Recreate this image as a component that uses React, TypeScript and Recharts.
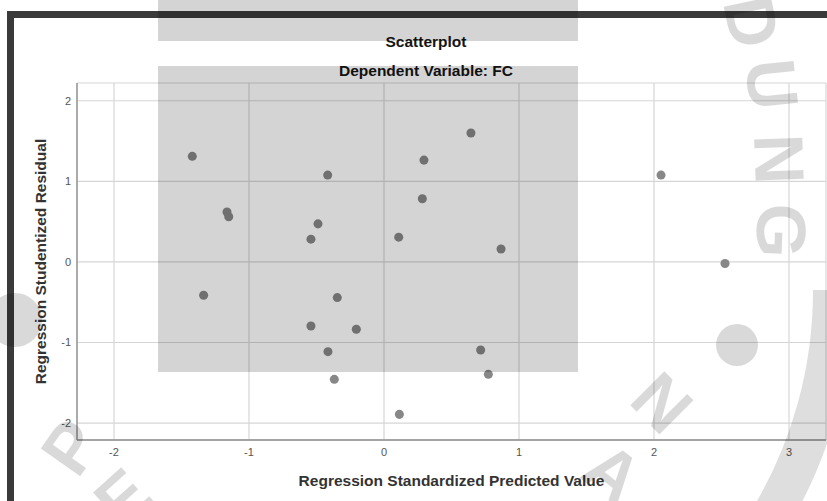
import React from 'react';
import { ScatterChart, Scatter, XAxis, YAxis, ZAxis, CartesianGrid } from 'recharts';

// Regression standardized predicted value (x) / studentized residual (y)
const predicted = [
  -1.42, -1.163, -1.15, -0.417, -0.489, -0.541, 0.109, 0.644, 0.296, 0.284, 0.867,
  2.052, 2.526, -1.336, -0.346, -0.541, -0.205, -0.415, -0.368, 0.114, 0.716, 0.773,
];
const residual = [
  1.31, 0.62, 0.56, 1.077, 0.472, 0.282, 0.307, 1.6, 1.263, 0.783, 0.16,
  1.077, -0.02, -0.414, -0.443, -0.795, -0.836, -1.114, -1.457, -1.892, -1.093, -1.395,
];
const xTicks = [-2, -1, 0, 1, 2, 3];
const yTicks = [-2, -1, 0, 1, 2];

const points = predicted.map((x, i) => ({ x, y: residual[i] }));

const W = 827;
const H = 501;
const shade = { fill: '#000', fillOpacity: 0.17 };
const mark = { fill: '#000', fillOpacity: 0.15 };

export default function App() {
  return (
    <div
      style={{
        position: 'absolute',
        top: 0,
        left: 0,
        width: W,
        height: H,
        background: '#fff',
        overflow: 'hidden',
        fontFamily: '"Liberation Sans", Arial, sans-serif',
      }}
    >
      <ScatterChart width={W} height={H} margin={{ top: 83, right: 1, bottom: 0, left: 0 }}>
        <CartesianGrid stroke="#d6d6d6" strokeWidth={1.2} />
        <XAxis
          type="number"
          dataKey="x"
          domain={[-2.274, 3.274]}
          ticks={xTicks}
          allowDataOverflow
          height={61}
          tickLine={false}
          tickSize={0}
          tickMargin={8}
          axisLine={{ stroke: '#8c8c8c', strokeWidth: 1.3 }}
          tick={{ fontSize: 11, fill: '#555' }}
          label={{
            value: 'Regression Standardized Predicted Value',
            position: 'insideBottom',
            offset: 15,
            fill: '#333',
            fontSize: 15.5,
            fontWeight: 'bold',
          }}
        />
        <YAxis
          type="number"
          dataKey="y"
          domain={[-2.21, 2.22]}
          ticks={yTicks}
          allowDataOverflow
          width={77}
          tickLine={false}
          tickSize={0}
          tickMargin={6}
          axisLine={{ stroke: '#8c8c8c', strokeWidth: 1.3 }}
          tick={{ fontSize: 11, fill: '#555' }}
          label={{
            value: 'Regression Studentized Residual',
            position: 'center',
            angle: -90,
            dx: 2,
            fill: '#333',
            fontSize: 15.5,
            fontWeight: 'bold',
          }}
        />
        <ZAxis range={[52, 52]} />
        <Scatter data={points} fill="#878787" isAnimationActive={false} />
      </ScatterChart>

      <svg
        width={W}
        height={H}
        style={{ position: 'absolute', top: 0, left: 0, pointerEvents: 'none' }}
      >
        <text x={426} y={46.5} textAnchor="middle" fontSize={15.5} fontWeight="bold" fill="#151515">
          Scatterplot
        </text>
        <text x={426} y={76} textAnchor="middle" fontSize={15.5} fontWeight="bold" fill="#151515">
          Dependent Variable: FC
        </text>

        {/* frame of the screenshot */}
        <rect x={7} y={11} width={820} height={7} fill="#3a3a3a" />
        <rect x={7} y={11} width={7} height={490} fill="#3a3a3a" />

        {/* watermark */}
        <path
          d="M 833 290 A 443 443 0 0 1 769 520"
          fill="none"
          stroke="#000"
          strokeOpacity={0.13}
          strokeWidth={40}
        />
        <circle cx={15} cy={320} r={27} {...mark} />
        <circle cx={737} cy={345} r={21} {...mark} />
        <g fontSize={70} fontWeight="bold" {...mark}>
          <text transform="translate(728,27) rotate(78)" textAnchor="middle">D</text>
          <text transform="translate(748,87) rotate(84)" textAnchor="middle">U</text>
          <text transform="translate(755,160) rotate(88)" textAnchor="middle">N</text>
          <text transform="translate(757,230) rotate(92)" textAnchor="middle">G</text>
          <text transform="translate(91,461) rotate(-55)" textAnchor="middle">P</text>
          <text transform="translate(139,516) rotate(-42)" textAnchor="middle">E</text>
          <text transform="translate(598,492) rotate(38)" textAnchor="middle">A</text>
          <text transform="translate(645,420) rotate(45)" textAnchor="middle">N</text>
        </g>

        {/* grey boxes over the picture */}
        <rect x={158} y={0} width={420} height={41} {...shade} />
        <rect x={158} y={66} width={420} height={306} {...shade} />
      </svg>
    </div>
  );
}
